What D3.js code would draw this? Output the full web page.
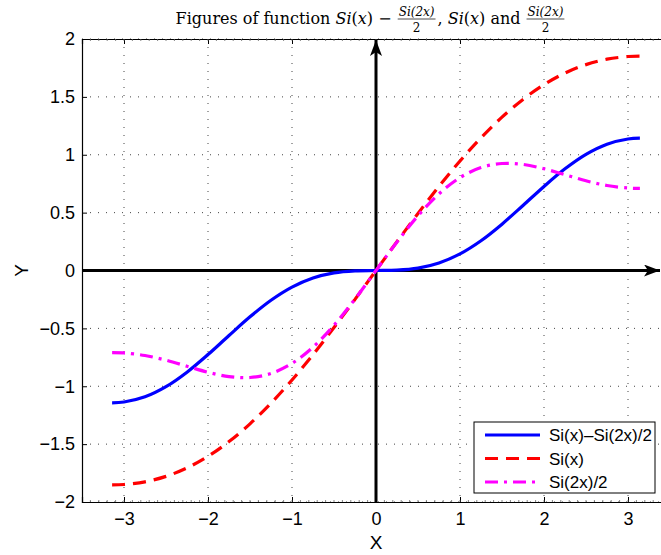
<!DOCTYPE html>
<html>
<head>
<meta charset="utf-8">
<script src="https://cdn.jsdelivr.net/npm/d3@7"></script>
<style>
  body { margin: 0; background: #fff; }
  svg { display: block; }
</style>
</head>
<body>
<svg id="chart" width="661" height="555"></svg>
<script>
// values
const xs = [-3.1416, -3, -2.75, -2.5, -2.25, -2, -1.75, -1.5, -1.25, -1, -0.75, -0.5, -0.25, 0,
            0.25, 0.5, 0.75, 1, 1.25, 1.5, 1.75, 2, 2.25, 2.5, 2.75, 3, 3.1416];
const siDiff = [-1.1428, -1.1363, -1.0912, -1.0035, -0.8784, -0.7263, -0.5616, -0.4003, -0.2571, -0.1434, -0.0646, -0.0201, -0.0025, 0,
                0.0025, 0.0201, 0.0646, 0.1434, 0.2571, 0.4003, 0.5616, 0.7263, 0.8784, 1.0035, 1.0912, 1.1363, 1.1428];
const si = [-1.8519, -1.8487, -1.8256, -1.7785, -1.7055, -1.6054, -1.4782, -1.3247, -1.1464, -0.9461, -0.7270, -0.4931, -0.2491, 0,
            0.2491, 0.4931, 0.7270, 0.9461, 1.1464, 1.3247, 1.4782, 1.6054, 1.7055, 1.7785, 1.8256, 1.8487, 1.8519];
const si2Half = [-0.7091, -0.7124, -0.7344, -0.7750, -0.8271, -0.8791, -0.9166, -0.9244, -0.8893, -0.8027, -0.6624, -0.4730, -0.2466, 0,
                 0.2466, 0.4730, 0.6624, 0.8027, 0.8893, 0.9244, 0.9166, 0.8791, 0.8271, 0.7750, 0.7344, 0.7124, 0.7091];

const xTicks = [-3, -2, -1, 0, 1, 2, 3];
const yTicks = [-2, -1.5, -1, -0.5, 0, 0.5, 1, 1.5, 2];

const seriesNames = ['Si(x)\u2013Si(2x)/2', 'Si(x)', 'Si(2x)/2'];
const seriesColors = ['#0000ff', '#ff0000', '#ff00ff'];
const seriesDash = [null, '13,8', '13,6,3,6'];
const seriesValues = [siDiff, si, si2Half];

const svg = d3.select('#chart');
const margin = { left: 82, top: 39, bottom: 502, right: 670 };
const sans = '"Liberation Sans", Arial, sans-serif';

const x = d3.scaleLinear().domain([-3.5, 3.5]).range([margin.left, margin.right]);
const y = d3.scaleLinear().domain([-2, 2]).range([margin.bottom, margin.top]);

const fmt = (d) => d3.format('')(d).replace('-', '\u2212');

// dotted grid
const grid = svg.append('g');
grid.selectAll('line.gx').data(xTicks).enter().append('line')
    .attr('x1', (d) => x(d)).attr('x2', (d) => x(d))
    .attr('y1', margin.top).attr('y2', margin.bottom)
    .attr('stroke', '#444').attr('stroke-width', 1).attr('stroke-dasharray', '1,7');
grid.selectAll('line.gy').data(yTicks).enter().append('line')
    .attr('y1', (d) => y(d)).attr('y2', (d) => y(d))
    .attr('x1', margin.left).attr('x2', margin.right)
    .attr('stroke', '#444').attr('stroke-width', 1).attr('stroke-dasharray', '1,7');

// axes with ticks on the box
const bottomAxis = svg.append('g')
    .attr('transform', `translate(0,${margin.bottom})`)
    .call(d3.axisBottom(x).tickValues(xTicks).tickSize(-5).tickPadding(10).tickFormat(fmt));
const leftAxis = svg.append('g')
    .attr('transform', `translate(${margin.left},0)`)
    .call(d3.axisLeft(y).tickValues(yTicks).tickSize(-5).tickPadding(7).tickFormat(fmt));
const topAxis = svg.append('g')
    .attr('transform', `translate(0,${margin.top})`)
    .call(d3.axisTop(x).tickValues(xTicks).tickSize(-5).tickFormat(''));
[bottomAxis, leftAxis, topAxis].forEach((g) => {
    g.attr('font-size', null).attr('font-family', null);
    g.select('.domain').attr('stroke', '#000').attr('stroke-width', 1.2);
    g.selectAll('.tick line').attr('stroke', '#000');
    g.selectAll('.tick text')
        .style('font-family', sans)
        .style('font-size', '18px')
        .attr('fill', '#000');
});
bottomAxis.selectAll('.tick text').attr('dy', '0.71em');

// minor ticks along the top and bottom border
const minor = d3.range(-34, 35).map((d) => d / 10);
svg.append('g').selectAll('line').data(minor).enter().append('line')
    .attr('x1', (d) => x(d)).attr('x2', (d) => x(d))
    .attr('y1', margin.top).attr('y2', margin.top + 2)
    .attr('stroke', '#666').attr('stroke-width', 0.8);
svg.append('g').selectAll('line').data(minor).enter().append('line')
    .attr('x1', (d) => x(d)).attr('x2', (d) => x(d))
    .attr('y1', margin.bottom).attr('y2', margin.bottom - 2)
    .attr('stroke', '#666').attr('stroke-width', 0.8);

// arrow axes through the origin
const defs = svg.append('defs');
defs.append('marker')
    .attr('id', 'arrow')
    .attr('viewBox', '0 0 16 12')
    .attr('refX', 16).attr('refY', 6)
    .attr('markerWidth', 16).attr('markerHeight', 12)
    .attr('markerUnits', 'userSpaceOnUse')
    .attr('orient', 'auto')
    .append('path')
    .attr('d', 'M0,0 L16,6 L0,12 L4,6 Z')
    .attr('fill', '#000');

svg.append('line')
    .attr('x1', x(0)).attr('x2', x(0))
    .attr('y1', margin.bottom).attr('y2', margin.top + 1)
    .attr('stroke', '#000').attr('stroke-width', 3)
    .attr('marker-end', 'url(#arrow)');
svg.append('line')
    .attr('x1', margin.left).attr('x2', 660)
    .attr('y1', y(0)).attr('y2', y(0))
    .attr('stroke', '#000').attr('stroke-width', 3)
    .attr('marker-end', 'url(#arrow)');

// curves
defs.append('clipPath').attr('id', 'plotclip').append('rect')
    .attr('x', margin.left).attr('y', margin.top)
    .attr('width', margin.right - margin.left).attr('height', margin.bottom - margin.top);

const line = d3.line()
    .x((d) => x(d[0]))
    .y((d) => y(d[1]))
    .curve(d3.curveCatmullRom);

const curves = svg.append('g').attr('clip-path', 'url(#plotclip)');
seriesValues.forEach((vals, i) => {
    curves.append('path')
        .datum(xs.map((xv, j) => [xv, vals[j]]))
        .attr('d', line)
        .attr('fill', 'none')
        .attr('stroke', seriesColors[i])
        .attr('stroke-width', 3.2)
        .attr('stroke-dasharray', seriesDash[i]);
});

// legend
const legend = svg.append('g').attr('transform', 'translate(474,422)');
legend.append('rect')
    .attr('width', 181).attr('height', 71)
    .attr('fill', '#fff').attr('stroke', '#000').attr('stroke-width', 1);
const rows = legend.selectAll('g.row').data(seriesNames).enter().append('g')
    .attr('transform', (d, i) => `translate(0,${13 + i * 23.5})`);
rows.append('line')
    .attr('x1', 11).attr('x2', 66)
    .attr('stroke', (d, i) => seriesColors[i])
    .attr('stroke-width', 3.2)
    .attr('stroke-dasharray', (d, i) => seriesDash[i]);
rows.append('text')
    .attr('x', 75).attr('dy', '0.36em')
    .style('font-family', sans)
    .style('font-size', '17px')
    .text((d) => d);

// axis labels
svg.append('text')
    .attr('x', x(0)).attr('y', 549)
    .attr('text-anchor', 'middle')
    .style('font-family', sans)
    .style('font-size', '19px')
    .text('X');
svg.append('text')
    .attr('transform', `translate(28,${y(0)}) rotate(-90)`)
    .attr('text-anchor', 'middle')
    .style('font-family', sans)
    .style('font-size', '19px')
    .text('Y');

// title, laid out piece by piece with stacked fractions
const titleParts = [
    { t: 'Figures of function ' },
    { t: 'Si', it: true }, { t: '(' }, { t: 'x', it: true }, { t: ') \u2212 ' },
    { num: 'Si(2x)', den: '2' },
    { t: ', ' },
    { t: 'Si', it: true }, { t: '(' }, { t: 'x', it: true }, { t: ') and ' },
    { num: 'Si(2x)', den: '2' }
];
const serif = '"DejaVu Serif", "Liberation Serif", serif';
const title = svg.append('g');
let cx = 0;
const baseY = 24;
titleParts.forEach((p) => {
    if (p.num) {
        const n = title.append('text').attr('y', baseY - 8)
            .style('font-family', serif).style('font-size', '12px').style('font-style', 'italic')
            .text(p.num);
        const d = title.append('text').attr('y', baseY + 8)
            .style('font-family', serif).style('font-size', '12px')
            .text(p.den);
        const w = n.node().getComputedTextLength() + 4;
        n.attr('x', cx + 2);
        d.attr('x', cx + w / 2).attr('text-anchor', 'middle');
        title.append('line')
            .attr('x1', cx + 1).attr('x2', cx + w - 1)
            .attr('y1', baseY - 5).attr('y2', baseY - 5)
            .attr('stroke', '#000').attr('stroke-width', 0.7);
        cx += w + 1;
    } else {
        const t = title.append('text').attr('x', cx).attr('y', baseY)
            .style('font-family', serif).style('font-size', '16px')
            .style('font-style', p.it ? 'italic' : 'normal')
            .style('white-space', 'pre')
            .attr('xml:space', 'preserve')
            .text(p.t);
        cx += t.node().getComputedTextLength();
    }
});
title.attr('transform', `translate(${371 - cx / 2},0)`);
</script>
</body>
</html>
